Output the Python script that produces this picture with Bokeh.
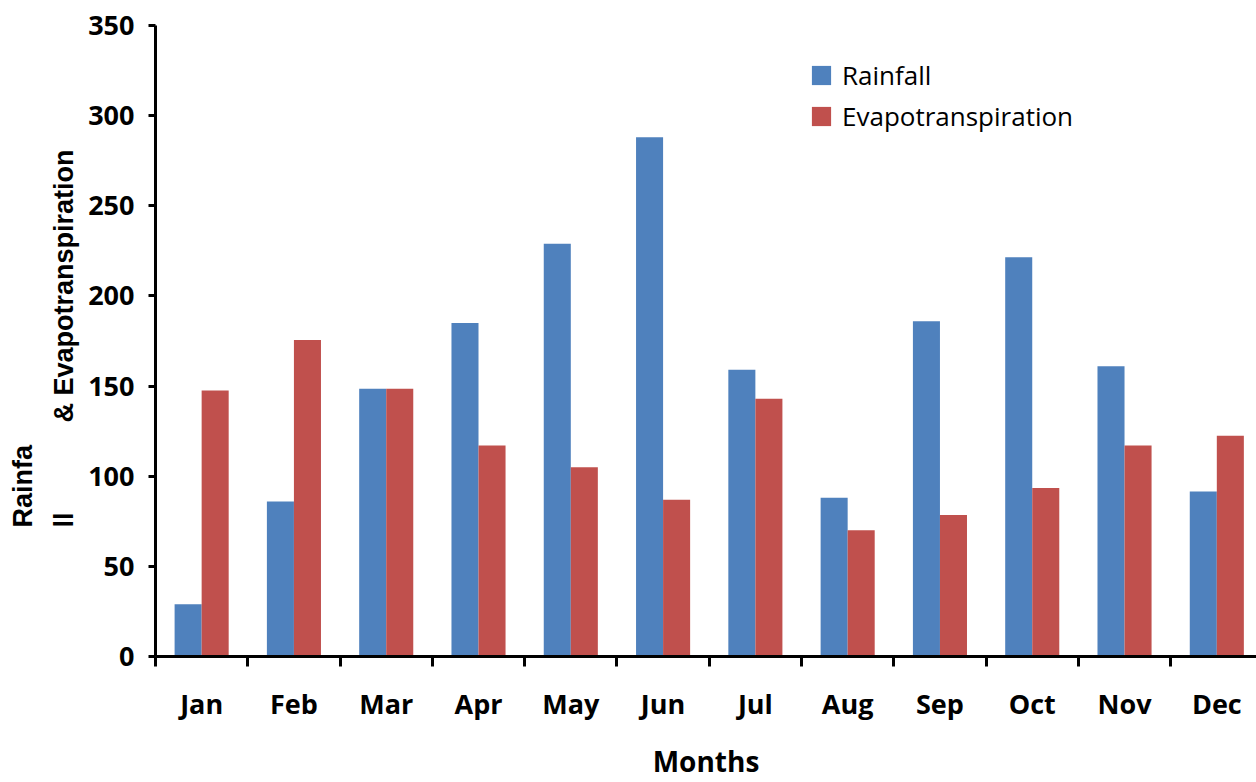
from bokeh.plotting import figure
from bokeh.models import Range1d, FixedTicker, Legend, LegendItem, Title
from bokeh.embed import file_html
from bokeh.resources import INLINE

months = ["Jan", "Feb", "Mar", "Apr", "May", "Jun", "Jul", "Aug", "Sep", "Oct", "Nov", "Dec"]
rainfall = [29, 86, 148.5, 185, 229, 288, 159, 88, 186, 221.5, 161, 91.5]
evapotranspiration = [147.5, 175.5, 148.5, 117, 105, 87, 143, 70, 78.5, 93.5, 117, 122.5]
y_ticks = [0, 50, 100, 150, 200, 250, 300, 350]

BLUE = "#4F81BD"
RED = "#C0504D"
FONT = "Open Sans"
FS = "27px"
BW = 0.293
NB = "\u00a0"

centers = [i + 0.5 for i in range(len(months))]
bounds = list(range(len(months) + 1))

p = figure(width=1256, height=782, x_range=Range1d(0, 11.93), y_range=Range1d(0, 350),
           output_backend="svg", toolbar_location=None,
           min_border_left=155, min_border_right=0, min_border_top=25, min_border_bottom=125)
p.outline_line_color = None
p.xgrid.grid_line_color = None
p.ygrid.grid_line_color = None

r1 = p.vbar(x=[c - BW / 2 for c in centers], top=rainfall, width=BW, fill_color=BLUE, line_color=None)
r2 = p.vbar(x=[c + BW / 2 for c in centers], top=evapotranspiration, width=BW, fill_color=RED, line_color=None)

# x axis
xa = p.xaxis[0]
xa.ticker = FixedTicker(ticks=centers, minor_ticks=bounds)
xa.major_label_overrides = {c: m for c, m in zip(centers, months)}
xa.major_tick_line_color = None
xa.major_tick_in = 0
xa.major_tick_out = 0
xa.minor_tick_in = 0
xa.minor_tick_out = 10
xa.minor_tick_line_width = 3
xa.minor_tick_line_color = "black"
xa.axis_line_width = 3
xa.axis_line_color = "black"
xa.major_label_text_font = FONT
xa.major_label_text_font_style = "bold"
xa.major_label_text_font_size = FS
xa.major_label_text_color = "black"
xa.major_label_text_line_height = 1.0
xa.major_label_standoff = 18
xa.axis_label = "Months"
xa.axis_label_text_font = FONT
xa.axis_label_text_font_style = "bold"
xa.axis_label_text_font_size = "28px"
xa.axis_label_text_color = "black"
xa.axis_label_text_line_height = 1.0
xa.axis_label_standoff = 17

# y axis
ya = p.yaxis[0]
ya.ticker = FixedTicker(ticks=y_ticks)
ya.minor_tick_line_color = None
ya.major_tick_in = 0
ya.major_tick_out = 7
ya.major_tick_line_width = 3
ya.major_tick_line_color = "black"
ya.axis_line_width = 3
ya.axis_line_color = "black"
ya.major_label_text_font = FONT
ya.major_label_text_font_style = "bold"
ya.major_label_text_font_size = FS
ya.major_label_text_color = "black"
ya.major_label_standoff = 14

# broken, wrapped y-axis title, as it appears in the reference
y_title = "Rainfa\n" + "ll" + NB * 12 + "&" + NB + "Evapotranspiration"
tA = Title(text=y_title, align="left", offset=129, standoff=12, text_line_height=1.37,
           text_font="Liberation Sans", text_font_style="bold", text_font_size=FS,
           text_color="black")
p.add_layout(tA, "left")

legend = Legend(items=[LegendItem(label="Rainfall", renderers=[r1]),
                       LegendItem(label="Evapotranspiration", renderers=[r2])],
                location=(654, 522))
legend.border_line_color = None
legend.background_fill_alpha = 0
legend.glyph_width = 24
legend.glyph_height = 24
legend.label_text_font = FONT
legend.label_text_font_size = "26px"
legend.label_text_color = "black"
legend.spacing = 5
legend.padding = 5
legend.label_standoff = 9
p.add_layout(legend)

open("out.html", "w").write(file_html(p, INLINE))
